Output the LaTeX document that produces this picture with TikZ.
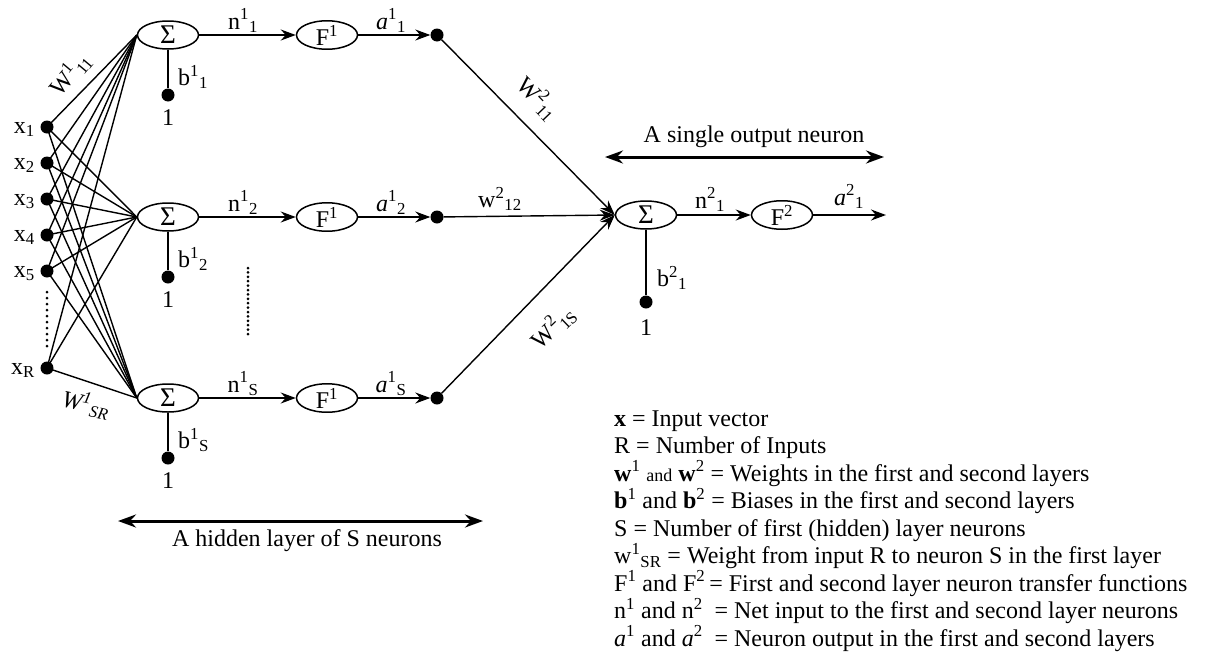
\documentclass[tikz,border=0pt]{standalone}
\usepackage{fontspec}
\setmainfont{Liberation Serif}
\usetikzlibrary{arrows.meta,shapes.geometric}
\newcommand\up[1]{\textsuperscript{#1}}
\newcommand\dn[1]{\textsubscript{#1}}
\newcommand\sumsign{{\fontsize{27}{27}\selectfont Σ}}
\begin{document}
\begin{tikzpicture}[x=1pt,y=-1pt,
  every node/.style={font=\fontsize{24}{27.5}\selectfont, inner sep=0pt},
  unit/.style={draw, ellipse, line width=1.5pt, minimum width=61pt, minimum height=28pt},
  blob/.style={circle, fill=black, minimum size=13pt},
  wire/.style={line width=1.4pt},
  flow/.style={wire, -{Stealth[length=15pt,width=11pt,inset=5pt]}},
  span/.style={line width=3pt, {Stealth[length=18pt,width=13pt,inset=6pt]}-{Stealth[length=18pt,width=13pt,inset=6pt]}},
  dots/.style={line width=3pt, line cap=round, dash pattern=on 0pt off #1},
  legend/.style={anchor=base west},
]
\useasboundingbox (0,0) rectangle (1210,664);
\fill[white] (0,0) rectangle (1210,664);

% inputs
\foreach \n/\y/\s in {x1/127/1, x2/163/2, x3/199/3, x4/235/4, x5/271/5, xR/368/R}{
  \node[blob] (\n) at (47,\y) {};
  \node[anchor=base east] (l\n) at (35,\y+6) {x\dn{\s}};
}
\draw[dots=6pt] (47,292) -- (47,348);

% hidden layer
\foreach \k/\y/\s in {1/35/1, 2/217/2, 3/398/S}{
  \node[unit] (s\k) at (168,\y) {\sumsign};
  \node[unit] (f\k) at (327,\y) {F\up{1}};
  \node[blob] (h\k) at (437,\y) {};
  \node[blob] (b\k) at (168,\y+60) {};
  \node (one\k) at (168,\y+83) {1};
  \node[anchor=west] (bl\k) at (178,\y+42) {b\up{1}\dn{\s}};
  \node[anchor=base] (nl\k) at (243,\y-6) {n\up{1}\dn{\s}};
  \node[anchor=base] (al\k) at (391,\y-6) {\textit{a}\up{1}\dn{\s}};
  \draw[wire] (s\k) -- (b\k);
  \draw[flow] (s\k) -- (f\k);
  \draw[flow] (f\k) -- (h\k);
}
\draw[dots=4.4pt] (248,268) -- (248,334);

\foreach \n in {x1,x2,x3,x4,x5,xR}
  \foreach \k in {1,2,3}
    \draw[wire] (\n.center) -- (s\k.west);

\node[rotate=50] (w111) at (70,74) {W\up{1}\dn{11}};
\node[rotate=-12] (w1sr) at (86,404) {\textit{W\up{1}\dn{SR}}};

% output neuron
\node[unit] (so) at (646,215) {\sumsign};
\node[unit] (f2) at (782,215) {F\up{2}};
\coordinate (out) at (886,215);
\node[blob] (bo) at (646,302) {};
\node (oneo) at (646,328) {1};
\node[anchor=west] (blo) at (657,278) {b\up{2}\dn{1}};
\node[anchor=base] (nlo) at (710,208) {n\up{2}\dn{1}};
\node[anchor=base] (alo) at (849,205) {\textit{a}\up{2}\dn{1}};
\draw[wire] (so) -- (bo);
\draw[flow] (so) -- (f2);
\draw[flow] (f2) -- (out);
\foreach \k in {1,2,3}
  \draw[flow] (h\k) -- (so.west);

\node[rotate=-46] (w211) at (538,98) {W\up{2}\dn{11}};
\node (w212) at (500,199) {w\up{2}\dn{12}};
\node[rotate=44] (w21s) at (553,327) {W\up{2}\dn{1S}};

% layer spans
\coordinate (oa) at (605,157);
\coordinate (ob) at (884,157);
\draw[span] (oa) -- (ob);
\node (ot) at (754,137) {A single output neuron};
\coordinate (ha) at (118,521);
\coordinate (hb) at (483,521);
\draw[span] (ha) -- (hb);
\node (ht) at (307,541) {A hidden layer of S neurons};

% legend
\node[legend] (g1) at (614,426) {\textbf{x} = Input vector};
\node[legend] (g2) at (614,453.5) {R = Number of Inputs};
\node[legend] (g3) at (614,481) {\textbf{w}\up{1} {\fontsize{18}{18}\selectfont and} \textbf{w}\up{2} = Weights in the first and second layers};
\node[legend] (g4) at (614,508.5) {\textbf{b}\up{1} and \textbf{b}\up{2} = Biases in the first and second layers};
\node[legend] (g5) at (614,536) {S = Number of first (hidden) layer neurons};
\node[legend] (g6) at (614,563.5) {w\up{1}\dn{SR} = Weight from input R to neuron S in the first layer};
\node[legend] (g7) at (614,591) {F\up{1} and F\up{2}\,= First and second layer neuron transfer functions};
\node[legend] (g8) at (614,618.5) {n\up{1} and n\up{2}\ \ = Net input to the first and second layer neurons};
\node[legend] (g9) at (614,646) {\textit{a}\up{1} and \textit{a}\up{2}\ \ = Neuron output in the first and second layers};
\end{tikzpicture}
\end{document}
